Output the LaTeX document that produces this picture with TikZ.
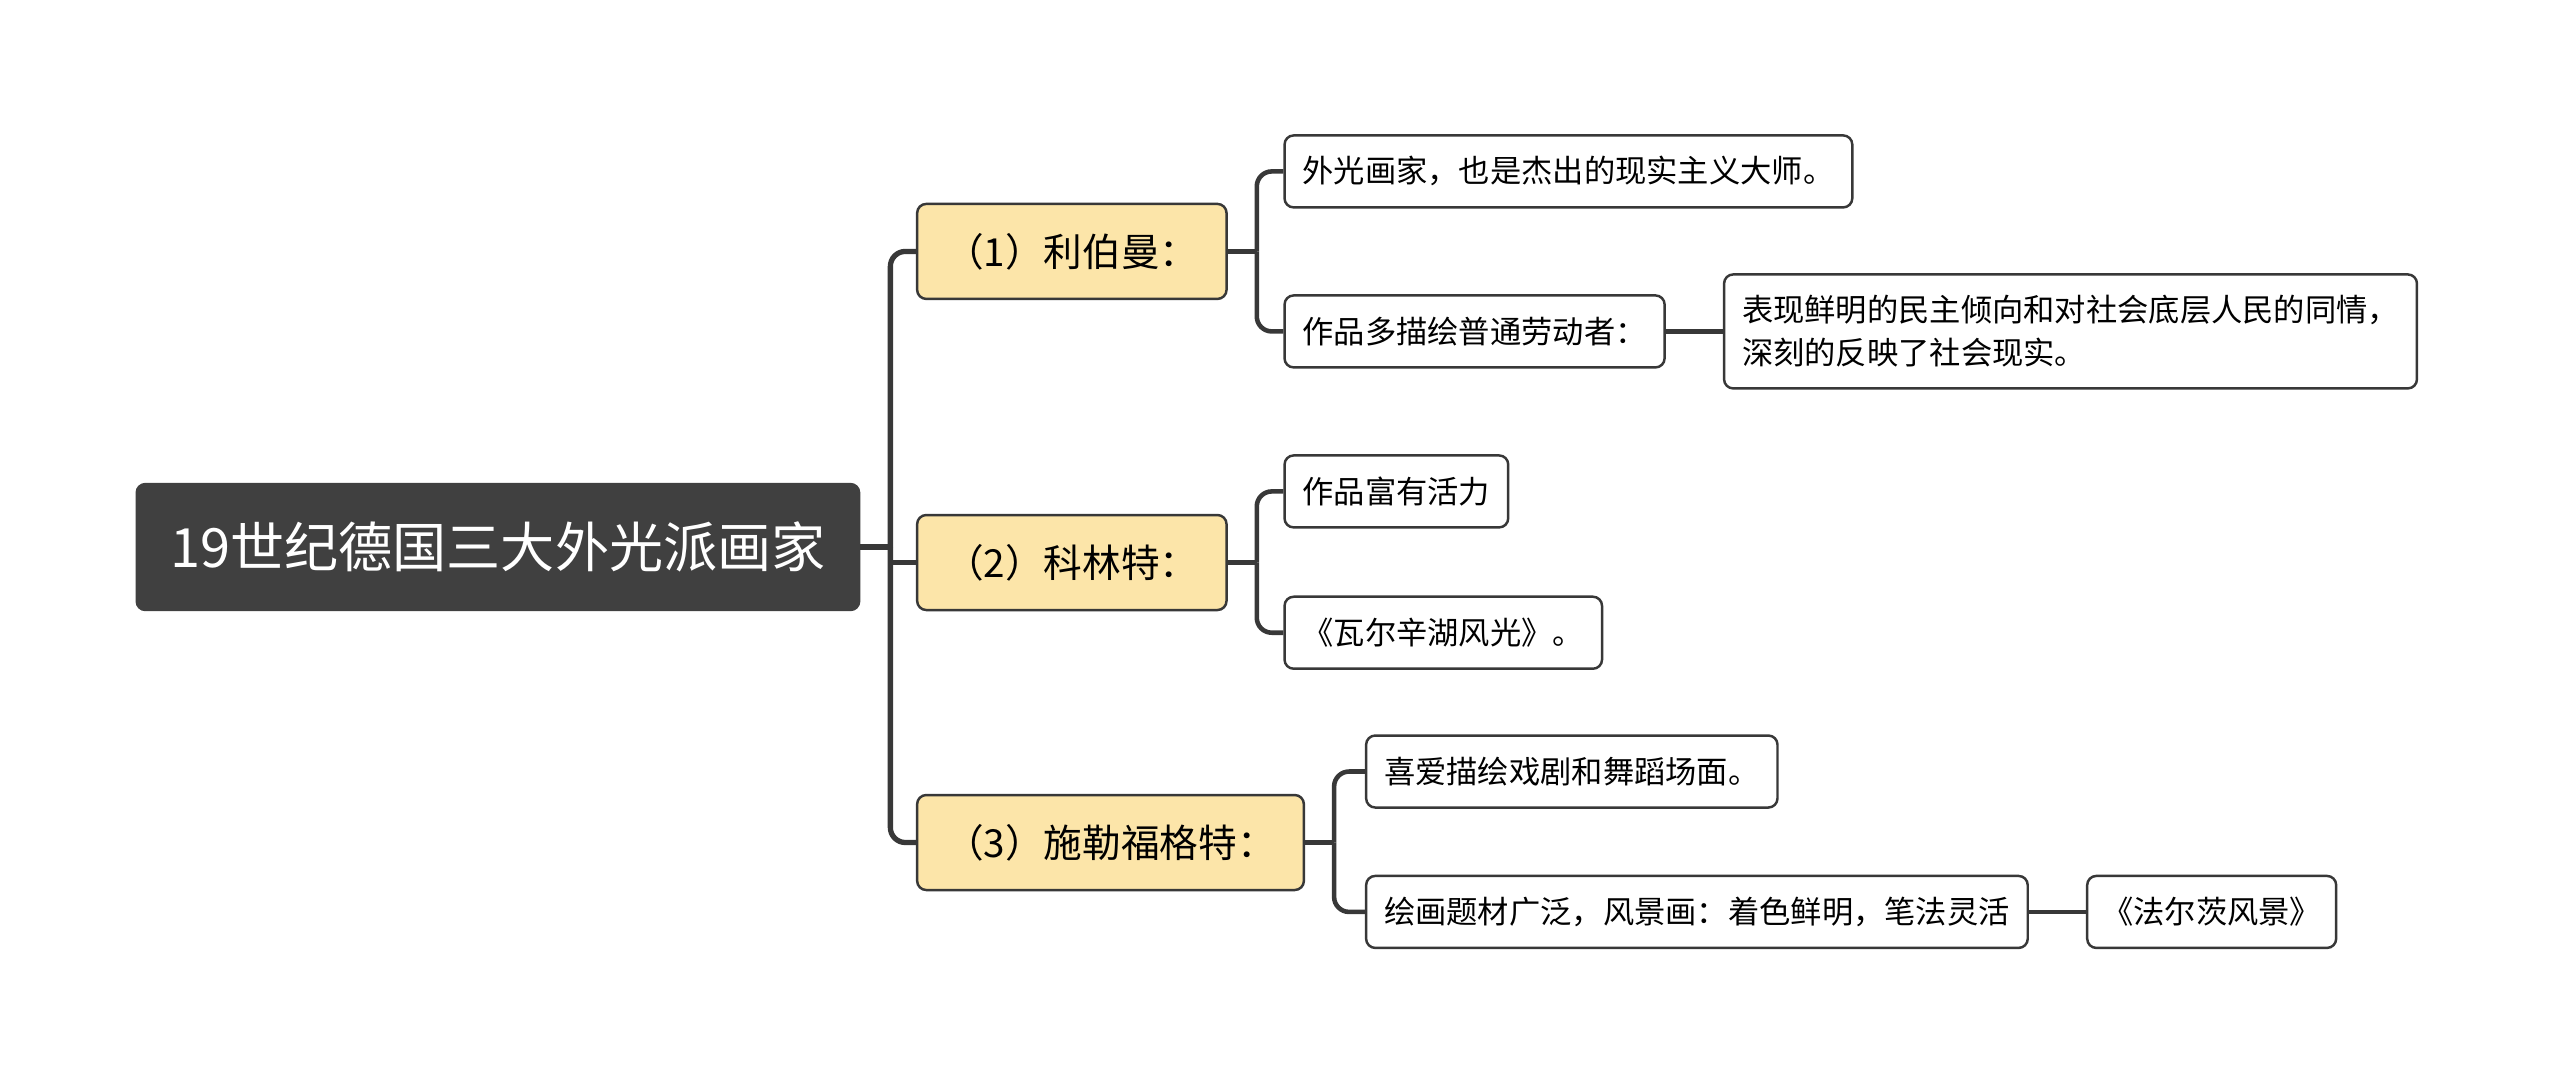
\documentclass[tikz,border=0pt]{standalone}
\usepackage{fontspec}
\newfontfamily\cjk{Noto Sans CJK SC}
\usetikzlibrary{positioning}
\definecolor{rootgray}{HTML}{404040}
\definecolor{linegray}{HTML}{383838}
\definecolor{topicfill}{HTML}{FCE5A9}

\begin{document}
\begin{tikzpicture}[
    root/.style={fill=rootgray, draw=rootgray, rounded corners=2.6pt, text=white, anchor=west,
                 font=\cjk\fontsize{15.4}{18}\selectfont, inner xsep=0.34cm, minimum height=1.27cm},
    topic/.style={draw=linegray, fill=topicfill, line width=0.7pt, rounded corners=2.6pt, anchor=west,
                  font=\cjk\fontsize{11}{13}\selectfont, inner xsep=0.28cm, minimum height=0.95cm},
    leaf/.style={draw=linegray, fill=white, line width=0.7pt, rounded corners=2.6pt, anchor=west,
                 font=\cjk\fontsize{8.9}{12.2}\selectfont, inner xsep=0.18cm, minimum height=0.72cm, align=left},
    conn/.style={draw=linegray, line width=1.5pt, rounded corners=0.15cm},
    subconn/.style={conn, line width=1.3pt},
]
\fill[white] (0,0) rectangle (25.6,-10.84);
% ------------------------------------------------ root and the three painters
\node[root] (root) at (1.355,-5.47) {19世纪德国三大外光派画家};
\node[topic] (t1) at (9.159,-2.514) {（1）利伯曼：};
\node[topic] (t2) at (9.159,-5.625) {（2）科林特：};
\node[topic] (t3) at (9.159,-8.425) {（3）施勒福格特：};
\coordinate (fork) at ([xshift=0.3cm]root.east);
\draw[conn] (root.east) -- (fork);
\draw[conn] (fork) |- (t1.west);
\draw[conn] (fork) |- (t3.west);
\draw[conn, sharp corners] (fork |- t2.west) -- (t2.west);
% ------------------------------------------------ (1)
\node[leaf] (a1) at (12.833,-1.714) {外光画家，也是杰出的现实主义大师。};
\node[leaf] (a2) at (12.833,-3.314) {作品多描绘普通劳动者：};
\node[leaf, minimum height=1.14cm, right=0.57cm of a2] (a3) {表现鲜明的民主倾向和对社会底层人民的同情，\\深刻的反映了社会现实。};
\coordinate (forka) at ([xshift=0.29cm]t1.east);
\draw[subconn] (t1.east) -- (forka);
\draw[subconn] (forka) |- (a1.west);
\draw[subconn] (forka) |- (a2.west);
\draw[subconn] (a2) -- (a3);
% ------------------------------------------------ (2)
\node[leaf] (b1) at (12.833,-4.914) {作品富有活力};
\node[leaf] (b2) at (12.833,-6.327) {《瓦尔辛湖风光》。};
\coordinate (forkb) at ([xshift=0.29cm]t2.east);
\draw[subconn] (t2.east) -- (forkb);
\draw[subconn] (forkb) |- (b1.west);
\draw[subconn] (forkb) |- (b2.west);
% ------------------------------------------------ (3)
\node[leaf] (c1) at (13.649,-7.715) {喜爱描绘戏剧和舞蹈场面。};
\node[leaf] (c2) at (13.649,-9.119) {绘画题材广泛，风景画：着色鲜明，笔法灵活};
\node[leaf, inner xsep=0.15cm, right=0.57cm of c2] (c3) {《法尔茨风景》};
\coordinate (forkc) at ([xshift=0.29cm]t3.east);
\draw[subconn] (t3.east) -- (forkc);
\draw[subconn] (forkc) |- (c1.west);
\draw[subconn] (forkc) |- (c2.west);
\draw[subconn] (c2) -- (c3);
\end{tikzpicture}
\end{document}
